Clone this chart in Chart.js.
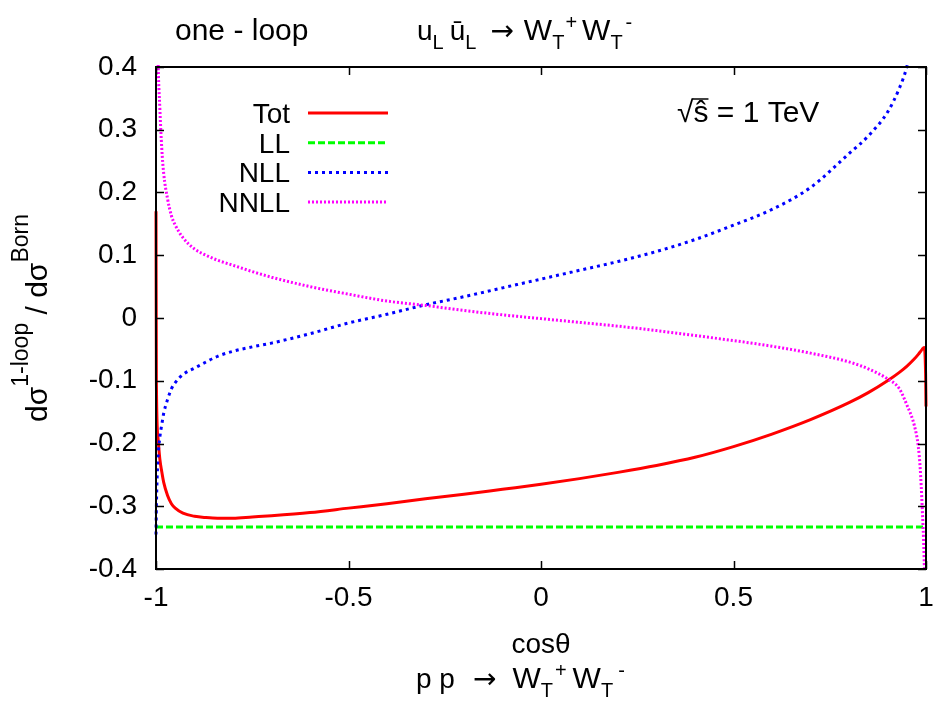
<!DOCTYPE html>
<html>
<head>
<meta charset="utf-8">
<script src="https://cdn.jsdelivr.net/npm/chart.js@4.4.0/dist/chart.umd.min.js"></script>
<style>
  html, body { margin: 0; padding: 0; background: #fff; }
  #wrap { width: 934px; height: 704px; }
</style>
</head>
<body>
<div id="wrap"><canvas id="chart" width="934" height="704"></canvas></div>
<script>
// cos(theta) sampling, denser near the endpoints where the curves turn sharply
const cosTheta = [-1, -0.999, -0.995, -0.99, -0.985, -0.98, -0.97, -0.96, -0.95, -0.93, -0.9, -0.87, -0.84, -0.8, -0.75, -0.7, -0.6, -0.5, -0.4, -0.3, -0.2, -0.1, 0, 0.1, 0.2, 0.3, 0.4, 0.5, 0.6, 0.7, 0.8, 0.85, 0.9, 0.93, 0.95, 0.97, 0.98, 0.985, 0.99, 0.995, 0.999, 1];

// d sigma(1-loop) / d sigma(Born)
const tot  = [0.17, -0.10, -0.19, -0.225, -0.245, -0.262, -0.283, -0.296, -0.303, -0.311, -0.316, -0.318, -0.319, -0.319, -0.317, -0.315, -0.310, -0.303, -0.296, -0.288, -0.281, -0.273, -0.265, -0.256, -0.246, -0.235, -0.222, -0.205, -0.185, -0.162, -0.135, -0.119, -0.100, -0.087, -0.077, -0.065, -0.058, -0.054, -0.050, -0.047, -0.090, -0.141];
const ll   = [-0.333, -0.333, -0.333, -0.333, -0.333, -0.333, -0.333, -0.333, -0.333, -0.333, -0.333, -0.333, -0.333, -0.333, -0.333, -0.333, -0.333, -0.333, -0.333, -0.333, -0.333, -0.333, -0.333, -0.333, -0.333, -0.333, -0.333, -0.333, -0.333, -0.333, -0.333, -0.333, -0.333, -0.333, -0.333, -0.333, -0.333, -0.333, -0.333, -0.333, -0.333, -0.333];
const nll  = [-0.345, -0.30, -0.225, -0.19, -0.17, -0.152, -0.13, -0.113, -0.103, -0.09, -0.08, -0.07, -0.061, -0.053, -0.046, -0.04, -0.025, -0.008, 0.006, 0.021, 0.034, 0.048, 0.062, 0.076, 0.090, 0.106, 0.125, 0.148, 0.173, 0.208, 0.262, 0.290, 0.328, 0.365, 0.400, 0.460, 0.500, 0.530, 0.570, 0.630, 0.750, 0.800];
const nnll = [0.80, 0.60, 0.42, 0.334, 0.27, 0.23, 0.19, 0.163, 0.148, 0.128, 0.110, 0.100, 0.092, 0.084, 0.074, 0.065, 0.050, 0.038, 0.027, 0.020, 0.012, 0.005, -0.001, -0.007, -0.013, -0.020, -0.028, -0.036, -0.045, -0.056, -0.070, -0.081, -0.097, -0.112, -0.138, -0.172, -0.205, -0.240, -0.300, -0.380, -0.500, -0.600];

const xTicks = [-1, -0.5, 0, 0.5, 1];
const xTickLabels = ['-1', '-0.5', '0', '0.5', '1'];
const yTicks = [-0.4, -0.3, -0.2, -0.1, 0, 0.1, 0.2, 0.3, 0.4];
const yTickLabels = ['-0.4', '-0.3', '-0.2', '-0.1', '0', '0.1', '0.2', '0.3', '0.4'];

const FAMILY = '"Liberation Sans", Arial, sans-serif';
const ARROW_FAMILY = '"DejaVu Sans", sans-serif';
const BIG = 28;
const SMALL = 20;

function pts(ys) {
  return cosTheta.map((c, i) => ({ x: c, y: ys[i] }));
}

function partFont(p) {
  const size = p.size || (p.s ? SMALL : BIG);
  return size + 'px ' + (p.arrow ? ARROW_FAMILY : FAMILY);
}

// text with sub/superscripts, gnuplot-enhanced style
function drawRich(ctx, parts, x, y, align) {
  let w = 0;
  parts.forEach(p => {
    ctx.font = partFont(p);
    w += ctx.measureText(p.t).width + (p.gap || 0);
  });
  let cx = align === 'center' ? x - w / 2 : x;
  ctx.textAlign = 'left';
  ctx.textBaseline = 'alphabetic';
  parts.forEach(p => {
    ctx.font = partFont(p);
    let dy = 0;
    if (p.s === 'sub') dy = p.dy !== undefined ? p.dy : 9;
    if (p.s === 'sup') dy = p.dy !== undefined ? p.dy : -11;
    ctx.fillText(p.t, cx, y + dy);
    cx += ctx.measureText(p.t).width + (p.gap || 0);
  });
}

const frameAndText = {
  id: 'frameAndText',
  afterDatasetsDraw(chart) {
    const { ctx, chartArea: a, scales } = chart;
    ctx.save();
    ctx.strokeStyle = '#000';
    ctx.lineWidth = 2;
    ctx.strokeRect(a.left, a.top, a.right - a.left, a.bottom - a.top);
    ctx.lineWidth = 1.5;
    ctx.beginPath();
    yTicks.forEach(v => {
      const py = Math.round(scales.y.getPixelForValue(v)) + 0.5;
      ctx.moveTo(a.left, py); ctx.lineTo(a.left + 8, py);
      ctx.moveTo(a.right, py); ctx.lineTo(a.right - 8, py);
    });
    xTicks.forEach(v => {
      const px = Math.round(scales.x.getPixelForValue(v)) + 0.5;
      ctx.moveTo(px, a.bottom); ctx.lineTo(px, a.bottom - 8);
      ctx.moveTo(px, a.top); ctx.lineTo(px, a.top + 8);
    });
    ctx.stroke();

    // legend
    ctx.fillStyle = '#000';
    chart.data.datasets.forEach((ds, i) => {
      const base = 123 + i * 29.7;
      ctx.font = BIG + 'px ' + FAMILY;
      ctx.textAlign = 'right';
      ctx.textBaseline = 'alphabetic';
      ctx.fillText(ds.label, 290, base);
      ctx.strokeStyle = ds.borderColor;
      ctx.lineWidth = ds.borderWidth;
      ctx.setLineDash(ds.borderDash || []);
      ctx.beginPath();
      ctx.moveTo(308, base - 10);
      ctx.lineTo(388, base - 10);
      ctx.stroke();
    });
    ctx.setLineDash([]);

    // sqrt(s-hat) = 1 TeV
    ctx.fillStyle = '#000';
    ctx.font = '30px ' + FAMILY;
    ctx.textAlign = 'left';
    const sx = 677, sb = 122;
    const rm = ctx.measureText('\u221A');
    ctx.fillText('\u221A', sx, sb);
    const rw = rm.width;
    ctx.fillText('\u015D = 1 TeV', sx + rw, sb);
    const sw = ctx.measureText('\u015D').width;
    ctx.strokeStyle = '#000';
    ctx.lineWidth = 1.5;
    ctx.beginPath();
    const topY = sb - rm.actualBoundingBoxAscent + 1;
    ctx.moveTo(sx + rw - 1, topY);
    ctx.lineTo(sx + rw + sw, topY);
    ctx.stroke();

    // titles
    ctx.font = '30px ' + FAMILY;
    ctx.textAlign = 'left';
    ctx.fillText('one - loop', 175, 40);
    drawRich(ctx, [
      { t: 'u' }, { t: 'L', s: 'sub', gap: 6 },
      { t: '\u016B' }, { t: 'L', s: 'sub', gap: 14 },
      { t: '\u2192', arrow: true, gap: 10 },
      { t: 'W', size: 30 }, { t: 'T', s: 'sub', gap: 1 }, { t: '+', s: 'sup', gap: 5 },
      { t: 'W', size: 30 }, { t: 'T', s: 'sub', gap: 3 }, { t: '-', s: 'sup' }
    ], 417, 40, 'left');

    // x axis titles
    ctx.font = BIG + 'px ' + FAMILY;
    ctx.textAlign = 'center';
    ctx.fillText('cos\u03B8', 541, 653);
    drawRich(ctx, [
      { t: 'p p', gap: 18 },
      { t: '\u2192', arrow: true, gap: 16 },
      { t: 'W', size: 30 }, { t: 'T', s: 'sub', gap: 2 }, { t: '+', s: 'sup', gap: 6 },
      { t: 'W', size: 30 }, { t: 'T', s: 'sub', gap: 5 }, { t: '-', s: 'sup' }
    ], 416, 688, 'left');

    // y axis title
    ctx.translate(47, 318);
    ctx.rotate(-Math.PI / 2);
    drawRich(ctx, [
      { t: 'd\u03C3', size: 30 }, { t: '1-loop', s: 'sup', size: 23, dy: -19 },
      { t: ' / d\u03C3', size: 30 }, { t: 'Born', s: 'sup', size: 23, dy: -19 }
    ], 0, 0, 'center');
    ctx.restore();
  }
};

const tickFont = { family: FAMILY, size: BIG };

new Chart(document.getElementById('chart'), {
  type: 'line',
  data: {
    datasets: [
      { label: 'Tot', data: pts(tot), borderColor: '#ff0000', borderWidth: 3, order: 4 },
      { label: 'LL', data: pts(ll), borderColor: '#00ff00', borderWidth: 3, borderDash: [7, 3], order: 3 },
      { label: 'NLL', data: pts(nll), borderColor: '#0000ff', borderWidth: 3, borderDash: [3, 4], order: 2 },
      { label: 'NNLL', data: pts(nnll), borderColor: '#ff00ff', borderWidth: 3, borderDash: [2, 2], order: 1 }
    ]
  },
  options: {
    responsive: false,
    animation: false,
    devicePixelRatio: 1,
    layout: { padding: { top: 67, right: 8, left: 0, bottom: 0 } },
    elements: {
      point: { radius: 0 },
      line: { cubicInterpolationMode: 'monotone', fill: false }
    },
    datasets: { line: { clip: 2 } },
    plugins: { legend: { display: false }, tooltip: { enabled: false } },
    scales: {
      x: {
        type: 'linear', min: -1, max: 1,
        afterBuildTicks: s => { s.ticks = xTicks.map(v => ({ value: v })); },
        afterFit: s => { s.height = 135; s.paddingLeft = 0; s.paddingRight = 0; },
        ticks: { callback: (v, i) => xTickLabels[i], font: tickFont, color: '#000', padding: 12, maxRotation: 0, autoSkip: false },
        grid: { display: false, drawTicks: false },
        border: { display: false }
      },
      y: {
        type: 'linear', min: -0.4, max: 0.4,
        afterBuildTicks: s => { s.ticks = yTicks.map(v => ({ value: v })); },
        afterFit: s => { s.width = 156; s.paddingTop = 0; s.paddingBottom = 0; },
        ticks: { callback: (v, i) => yTickLabels[i], font: tickFont, color: '#000', padding: 19, autoSkip: false },
        grid: { display: false, drawTicks: false },
        border: { display: false }
      }
    }
  },
  plugins: [frameAndText]
});
</script>
</body>
</html>
